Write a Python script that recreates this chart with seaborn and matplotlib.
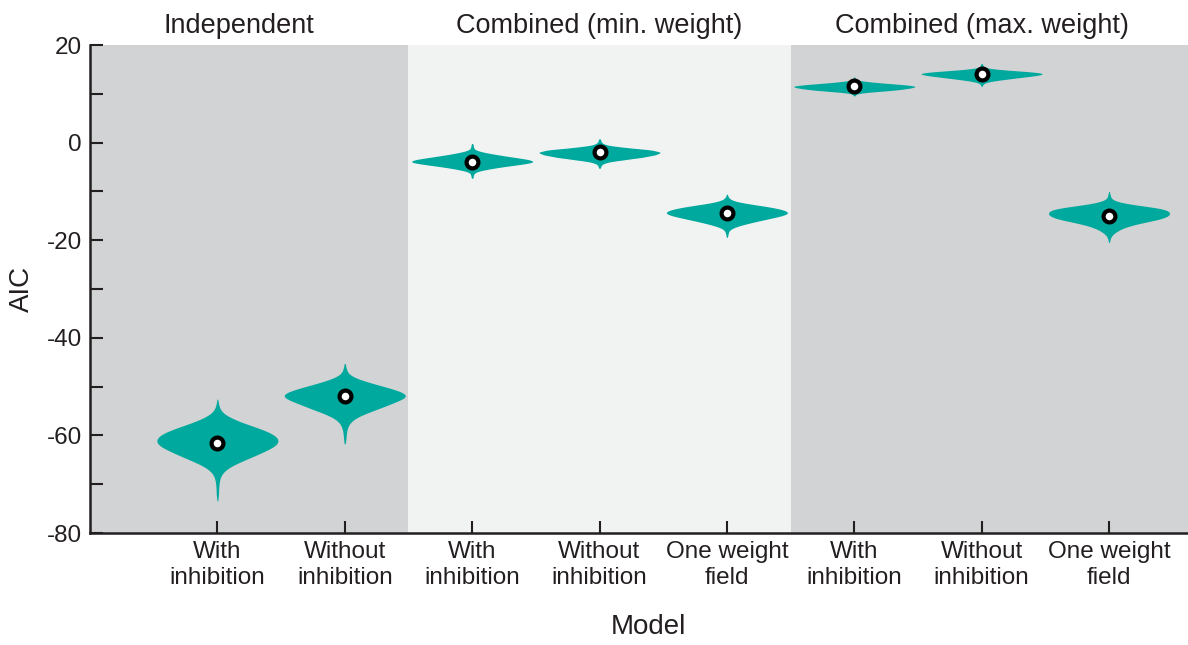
import numpy as np
import pandas as pd
import matplotlib
matplotlib.use('Agg')
import matplotlib.pyplot as plt
import matplotlib.transforms as mtransforms
import seaborn as sns

# ── DATA ──────────────────────────────────────────────────────
MODELS = ['ind_with', 'ind_without', 'min_with', 'min_without', 'min_one',
          'max_with', 'max_without', 'max_one']
TICK_LABELS = ['With\ninhibition', 'Without\ninhibition',
               'With\ninhibition', 'Without\ninhibition', 'One weight\nfield',
               'With\ninhibition', 'Without\ninhibition', 'One weight\nfield']
GROUPS = ['Independent', 'Combined (min. weight)', 'Combined (max. weight)']

# AIC values and how many fits landed on each value
ind_with_aic = [-72.5, -71.5, -70.5, -69.5, -68.5, -67.5, -66.5, -65.5, -64.5,
                -63.5, -62.5, -61.5, -60.5, -59.5, -58.5, -57.5, -56.5, -55.5,
                -54.5, -53.5]
ind_with_n = [2, 2, 2, 3, 4, 8, 18, 34, 55, 70, 90, 100, 98, 88, 66, 41, 22,
              7, 3, 2]

ind_without_aic = [-61, -60, -59, -58, -57, -56, -55, -54, -53, -52, -51, -50,
                   -49, -48, -47, -46]
ind_without_n = [2, 2, 3, 5, 10, 22, 42, 62, 80, 100, 88, 60, 33, 10, 3, 2]

min_with_aic = [-7.0, -6.5, -6.0, -5.5, -5.0, -4.5, -4.0, -3.5, -3.0, -2.5,
                -2.0, -1.5, -1.0, -0.5]
min_with_n = [2, 2, 5, 22, 45, 75, 100, 92, 65, 40, 18, 4, 2, 2]

min_without_aic = [-5.0, -4.5, -4.0, -3.5, -3.0, -2.5, -2.0, -1.5, -1.0, -0.5,
                   0.0, 0.5]
min_without_n = [2, 3, 12, 40, 70, 90, 100, 85, 40, 10, 3, 2]

min_one_aic = [-19.0, -18.5, -18.0, -17.5, -17.0, -16.5, -16.0, -15.5, -15.0,
               -14.5, -14.0, -13.5, -13.0, -12.5, -12.0, -11.5, -11.0]
min_one_n = [2, 2, 3, 8, 20, 35, 52, 70, 88, 100, 96, 82, 60, 30, 10, 3, 2]

max_with_aic = [9.75, 10.0, 10.25, 10.5, 10.75, 11.0, 11.25, 11.5, 11.75, 12.0,
                12.25, 12.5, 12.75, 13.0, 13.25]
max_with_n = [2, 3, 15, 40, 65, 80, 92, 100, 90, 65, 40, 20, 5, 2, 2]

max_without_aic = [11.75, 12.0, 12.25, 12.5, 12.75, 13.0, 13.25, 13.5, 13.75,
                   14.0, 14.25, 14.5, 14.75, 15.0, 15.25, 15.5, 15.75, 16.0]
max_without_n = [2, 2, 5, 12, 25, 40, 55, 72, 88, 98, 100, 80, 50, 25, 8, 3,
                 2, 2]

max_one_aic = [-20.0, -19.5, -19.0, -18.5, -18.0, -17.5, -17.0, -16.5, -16.0,
               -15.5, -15.0, -14.5, -14.0, -13.5, -13.0, -12.5, -12.0, -11.5,
               -11.0, -10.5]
max_one_n = [2, 2, 4, 9, 15, 22, 35, 50, 72, 90, 98, 100, 98, 92, 55, 25, 8,
             3, 2, 2]

aic_sets = [(ind_with_aic, ind_with_n), (ind_without_aic, ind_without_n),
            (min_with_aic, min_with_n), (min_without_aic, min_without_n),
            (min_one_aic, min_one_n), (max_with_aic, max_with_n),
            (max_without_aic, max_without_n), (max_one_aic, max_one_n)]

frames = []
for model, (vals, counts) in zip(MODELS, aic_sets):
    frames.append(pd.DataFrame({'Model': model,
                                'AIC': np.repeat(vals, counts)}))
df = pd.concat(frames, ignore_index=True)

# ── STYLE ─────────────────────────────────────────────────────
sns.set_theme(style='ticks')
plt.rcParams['font.family'] = ['Liberation Sans', 'DejaVu Sans']
plt.rcParams['axes.unicode_minus'] = False

TEAL = '#00A99D'
DARK_BG = '#D1D3D4'
LIGHT_BG = '#F1F2F2'
INK = '#231F20'

fig = plt.figure(figsize=(11.88, 6.45), dpi=100)
ax = fig.add_axes([90 / 1188, 112 / 645, 1098 / 1188, 488 / 645])

# shaded model groups
ax.axvspan(-1, 1.5, color=DARK_BG, lw=0, zorder=0)
ax.axvspan(1.5, 4.5, color=LIGHT_BG, lw=0, zorder=0)
ax.axvspan(4.5, 7.62, color=DARK_BG, lw=0, zorder=0)

sns.violinplot(data=df, x='Model', y='AIC', order=MODELS, color=TEAL,
               saturation=1, inner=None, linewidth=0, cut=1, width=0.95,
               density_norm='width', bw_method=0.32, gridsize=300, ax=ax,
               zorder=2)

sns.pointplot(data=df, x='Model', y='AIC', order=MODELS, estimator='median',
              errorbar=None, linestyle='none', markers='o', color='black',
              markersize=8.5, markerfacecolor='white', markeredgecolor='black',
              markeredgewidth=3, ax=ax, zorder=4)

# group titles
trans = mtransforms.blended_transform_factory(ax.transData, ax.transAxes)
for xpos, name in zip([0.17, 3.0, 6.0], GROUPS):
    ax.text(xpos, 1.012, name, transform=trans, ha='center', va='bottom',
            fontsize=19.5, color=INK)

ax.set_xlim(-1, 7.62)
ax.set_ylim(-80, 20)
yt = np.arange(-80, 21, 10)
ax.set_yticks(yt)
ax.set_yticklabels([str(v) if v % 20 == 0 else '' for v in yt])
ax.set_xticks(range(len(MODELS)))
ax.set_xticklabels(TICK_LABELS)

ax.tick_params(direction='in', length=9, width=1.5, labelsize=17.5,
               colors=INK, pad=6)
for side in ['top', 'right']:
    ax.spines[side].set_visible(False)
for side in ['left', 'bottom']:
    ax.spines[side].set_linewidth(1.8)
    ax.spines[side].set_color(INK)

ax.set_xlabel('Model', fontsize=20, labelpad=18, color=INK, x=0.509)
ax.set_ylabel('AIC', fontsize=20, labelpad=8, color=INK)

fig.savefig('out.png', dpi=100)
